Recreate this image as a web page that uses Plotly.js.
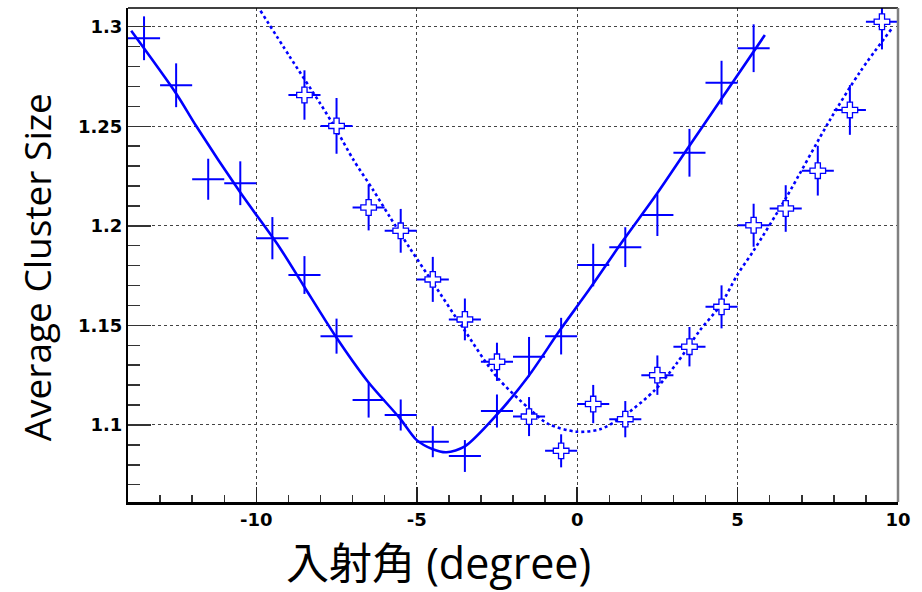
<!DOCTYPE html>
<html>
<head>
<meta charset="utf-8">
<script src="https://cdn.plot.ly/plotly-3.0.1.min.js"></script>
<style>html,body{margin:0;padding:0;background:#fff;}#chart{width:922px;height:592px;}</style>
</head>
<body>
<div id="chart"></div>
<script>
// Series 1 (large crosses, solid fit)
const s1x = [-13.5,-12.5,-11.5,-10.5,-9.5,-8.5,-7.5,-6.5,-5.5,-4.5,-3.5,-2.5,-1.5,-0.5,0.5,1.5,2.5,3.5,4.5,5.5];
const s1y = [1.2942,1.2706,1.2234,1.2214,1.1938,1.1753,1.1446,1.1125,1.105,1.0916,1.0844,1.107,1.1342,1.1446,1.1803,1.1893,1.2054,1.2367,1.2719,1.2892];
const s1yErr = [0.011,0.011,0.0103,0.011,0.0106,0.0095,0.0088,0.0088,0.0078,0.0078,0.008,0.0083,0.010,0.0092,0.0107,0.010,0.0105,0.012,0.011,0.012];
const s1xErr = [0.5,0.5,0.5,0.5,0.5,0.5,0.5,0.5,0.5,0.5,0.5,0.5,0.5,0.5,0.5,0.5,0.5,0.5,0.5,0.5];

// Series 2 (open-cross markers, dotted fit)
const s2x = [-8.5,-7.5,-6.5,-5.5,-4.5,-3.5,-2.5,-1.5,-0.5,0.5,1.5,2.5,3.5,4.5,5.5,6.5,7.5,8.5,9.5];
const s2y = [1.2657,1.2502,1.2092,1.1975,1.1731,1.153,1.1317,1.1042,1.087,1.1105,1.1029,1.125,1.1393,1.1593,1.2003,1.2087,1.2277,1.2582,1.3025];
const s2yErr = [0.0124,0.014,0.0115,0.011,0.0113,0.0105,0.0096,0.0098,0.0083,0.0096,0.0091,0.0099,0.0099,0.0108,0.0108,0.0117,0.0125,0.0125,0.0139];
const s2xErr = [0.5,0.5,0.5,0.5,0.5,0.5,0.5,0.5,0.5,0.5,0.5,0.5,0.5,0.5,0.5,0.5,0.5,0.5,0.5];

// Fit curves
const fit1x = [-13.9,-12.5,-11.87,-10.52,-9.29,-8.54,-7.52,-6.52,-5.53,-5.01,-4.5,-4.07,-3.5,-2.51,-1.53,-0.54,0.14,0.5,1.43,2.48,3.41,4.86,5.85];
const fit1y = [1.298,1.2665,1.25,1.2172,1.1895,1.1703,1.1443,1.1217,1.1034,1.0925,1.0878,1.0863,1.0892,1.105,1.1242,1.1475,1.1627,1.1709,1.1926,1.216,1.2381,1.2724,1.2958];
const fit2x = [-9.87,-8.96,-8.02,-7.5,-6.98,-6.36,-5.84,-5.22,-4.49,-3.55,-2.51,-1.47,-0.9,-0.02,0.71,1.43,2.42,3.1,3.83,4.47,4.99,5.51,6.53,7.88,8.82,9.85];
const fit2y = [1.308,1.285,1.2617,1.2481,1.2333,1.218,1.2045,1.1889,1.1713,1.1485,1.1242,1.1078,1.1005,1.0966,1.0978,1.1042,1.1175,1.1309,1.1476,1.1602,1.1753,1.1878,1.2146,1.2532,1.2774,1.300];

// Axis ticks and titles
const xTickVals = [-10,-5,0,5,10];
const xTickText = ['-10','-5','0','5','10'];
const yTickVals = [1.1,1.15,1.2,1.25,1.3];
const yTickText = ['1.1','1.15','1.2','1.25','1.3'];
const xTitle = '入射角 (degree)';
const yTitle = 'Average Cluster Size';

const blue = '#0000ff';
const tickFont = {family: 'DejaVu Sans, Liberation Sans, sans-serif', size: 18, weight: 700, color: '#000'};
const titleFamily = 'Open Sans, Noto Sans CJK JP, sans-serif';

const traces = [
  {
    x: fit1x, y: fit1y, type: 'scatter', mode: 'lines',
    line: {color: blue, width: 2.6, shape: 'spline', smoothing: 0.8},
    hoverinfo: 'skip', showlegend: false
  },
  {
    x: fit2x, y: fit2y, type: 'scatter', mode: 'lines',
    line: {color: blue, width: 2.6, dash: 'dot', shape: 'spline', smoothing: 0.8},
    hoverinfo: 'skip', showlegend: false
  },
  {
    x: s1x, y: s1y, type: 'scatter', mode: 'markers',
    marker: {size: 1, color: 'rgba(0,0,0,0)'},
    error_y: {type: 'data', array: s1yErr, color: blue, thickness: 2, width: 0},
    error_x: {type: 'data', array: s1xErr, color: blue, thickness: 2, width: 0},
    showlegend: false
  },
  {
    x: s2x, y: s2y, type: 'scatter', mode: 'markers',
    marker: {symbol: 'cross', size: 13, color: '#ffffff', line: {color: blue, width: 1.3}},
    error_y: {type: 'data', array: s2yErr, color: blue, thickness: 2, width: 0},
    error_x: {type: 'data', array: s2xErr, color: blue, thickness: 2, width: 0},
    showlegend: false
  }
];

const layout = {
  width: 922, height: 592,
  margin: {l: 128, r: 24, t: 8, b: 90},
  paper_bgcolor: '#ffffff', plot_bgcolor: '#ffffff',
  showlegend: false,
  xaxis: {
    range: [-14, 10], autorange: false,
    tickmode: 'array', tickvals: xTickVals, ticktext: xTickText,
    ticks: 'inside', ticklen: 15, tickwidth: 1.5, tickcolor: '#222',
    tickfont: tickFont,
    showgrid: true, gridcolor: '#444', griddash: 'dot', gridwidth: 1,
    minor: {tickmode: 'linear', tick0: -14, dtick: 1, ticks: 'inside', ticklen: 7, tickwidth: 1.5, tickcolor: '#333', showgrid: false},
    showline: true, linecolor: '#000', linewidth: 2.5, mirror: false,
    zeroline: false
  },
  yaxis: {
    range: [1.0613, 1.3094], autorange: false,
    tickmode: 'array', tickvals: yTickVals, ticktext: yTickText,
    ticks: 'inside', ticklen: 23, tickwidth: 1.5, tickcolor: '#333',
    tickfont: tickFont,
    showgrid: true, gridcolor: '#444', griddash: 'dot', gridwidth: 1,
    minor: {tickmode: 'linear', tick0: 1.0, dtick: 0.01, ticks: 'inside', ticklen: 12, tickwidth: 1.5, tickcolor: '#333', showgrid: false},
    showline: true, linecolor: '#000', linewidth: 2, mirror: false,
    zeroline: false
  },
  annotations: [
    {text: xTitle, xref: 'paper', yref: 'paper', x: 0.4026, y: -0.122, xanchor: 'center', yanchor: 'middle',
     showarrow: false, font: {family: titleFamily, size: 43, color: '#000'}},
    {text: yTitle, xref: 'paper', yref: 'paper', x: -0.119, y: 0.4757, xanchor: 'center', yanchor: 'middle',
     textangle: -90, showarrow: false, font: {family: titleFamily, size: 37, color: '#000'}}
  ],
  shapes: [
    {type: 'line', xref: 'paper', yref: 'paper', x0: 0, x1: 1, y0: 1, y1: 1, line: {color: '#000', width: 1.5}},
    {type: 'line', xref: 'paper', yref: 'paper', x0: 1, x1: 1, y0: 0, y1: 1, line: {color: '#808080', width: 2.5}}
  ]
};

Plotly.newPlot('chart', traces, layout, {displayModeBar: false, staticPlot: true});
</script>
</body>
</html>
